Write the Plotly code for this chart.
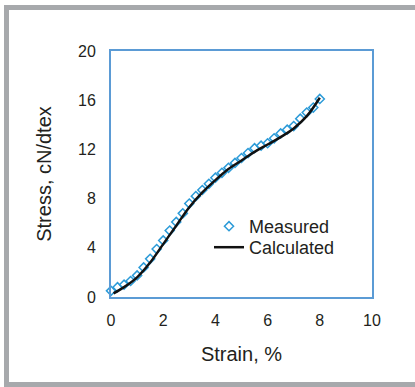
import plotly.graph_objects as go

# Data
strain_measured = [0.0, 0.25, 0.5, 0.75, 1.0, 1.25, 1.5, 1.75, 2.0, 2.25, 2.5, 2.75,
                   3.0, 3.25, 3.5, 3.75, 4.0, 4.25, 4.5, 4.75, 5.0, 5.25, 5.5, 5.75,
                   6.0, 6.25, 6.5, 6.75, 7.0, 7.25, 7.5, 7.75, 8.0]
stress_measured = [0.5, 0.8, 1.0, 1.3, 1.75, 2.4, 3.1, 3.9, 4.6, 5.4, 6.1, 6.8,
                   7.6, 8.2, 8.7, 9.2, 9.7, 10.1, 10.5, 10.9, 11.3, 11.7, 12.1, 12.3,
                   12.5, 12.9, 13.3, 13.6, 13.9, 14.5, 15.0, 15.4, 16.1]

strain_calc = [0.1, 0.5, 1.0, 1.5, 2.0, 2.5, 3.0, 3.5, 4.0, 4.5, 5.0, 5.5, 6.0,
               6.5, 7.0, 7.5, 8.0]
stress_calc = [0.3, 0.8, 1.6, 2.8, 4.3, 5.8, 7.3, 8.5, 9.5, 10.4, 11.1, 11.8, 12.4,
               13.0, 13.7, 14.7, 16.2]

x_ticks = [0, 2, 4, 6, 8, 10]
y_ticks = [0, 4, 8, 12, 16, 20]

W, H = 415, 387
L, R, T, B = 111, 372, 51, 297

def px(x):
    return (x - L) / (R - L)

def py(y):
    return (B - y) / (B - T)

font_fam = "Liberation Sans, Arial, sans-serif"
txt = "#231f20"
blue = "#5b9bd5"
gray = "#a7a9ac"

fig = go.Figure()
fig.add_trace(go.Scatter(
    x=strain_measured, y=stress_measured, mode="markers", name="Measured",
    marker=dict(symbol="diamond-open", size=7, color="#2c9bd8", line=dict(width=1.5)),
    cliponaxis=False, legend="legend",
))
fig.add_trace(go.Scatter(
    x=strain_calc, y=stress_calc, mode="lines", name="Calculated",
    line=dict(color="#111111", width=2.5, shape="spline"),
    cliponaxis=False, legend="legend2",
))

shapes = [
    dict(type="rect", xref="paper", yref="paper", x0=px(4), x1=px(9), y0=py(385), y1=py(5),
         fillcolor=gray, line=dict(width=0), layer="below"),
    dict(type="rect", xref="paper", yref="paper", x0=px(4), x1=px(415), y0=py(10), y1=py(5),
         fillcolor=gray, line=dict(width=0), layer="below"),
    dict(type="rect", xref="paper", yref="paper", x0=px(4), x1=px(415), y0=py(387), y1=py(382),
         fillcolor=gray, line=dict(width=0), layer="below"),
]

leg_common = dict(xanchor="left", yanchor="top", font=dict(size=18, color=txt),
                  bgcolor="rgba(0,0,0,0)", itemwidth=30)

fig.update_layout(
    width=W, height=H,
    margin=dict(l=L, r=W - R, t=T, b=H - B, pad=0),
    paper_bgcolor="white", plot_bgcolor="white",
    font=dict(family=font_fam, color=txt, size=16),
    showlegend=True,
    legend=dict(x=px(209), y=py(208), **leg_common),
    legend2=dict(x=px(209), y=py(229), **leg_common),
    shapes=shapes,
)
fig.update_xaxes(
    range=[0, 10], tickvals=x_ticks, showgrid=False, zeroline=False,
    showline=True, mirror=True, linecolor=blue, linewidth=2,
    ticks="outside", ticklen=8, tickcolor="rgba(0,0,0,0)",
    tickfont=dict(size=16, color=txt),
    title=dict(text="Strain, %", font=dict(size=20, color=txt), standoff=19),
)
fig.update_yaxes(
    range=[0, 20], tickvals=y_ticks, showgrid=False, zeroline=False,
    showline=True, mirror=True, linecolor=blue, linewidth=2,
    ticks="outside", ticklen=10, tickcolor="rgba(0,0,0,0)",
    tickfont=dict(size=16, color=txt),
    title=dict(text="Stress, cN/dtex", font=dict(size=20, color=txt), standoff=21),
)

fig.write_html("out.html")
